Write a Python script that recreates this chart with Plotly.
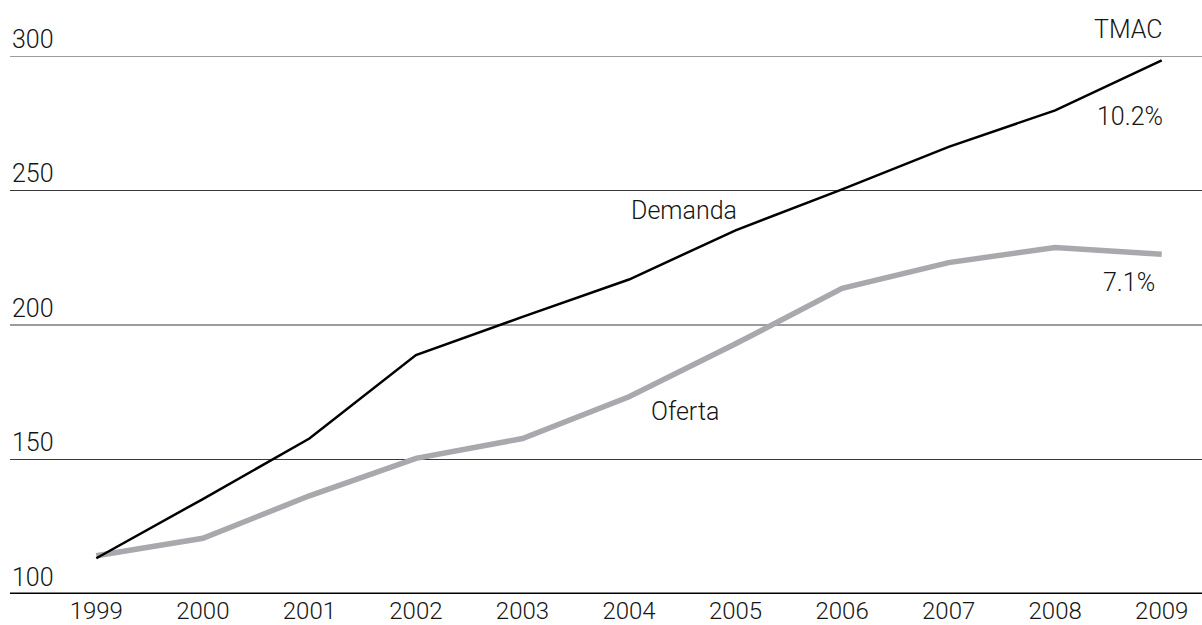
import plotly.graph_objects as go

years = [1999, 2000, 2001, 2002, 2003, 2004, 2005, 2006, 2007, 2008, 2009]
demanda = [113.3, 135.3, 157.8, 188.8, 203.0, 216.9, 235.2, 250.4, 266.2, 279.8, 298.4]
oferta = [114.2, 120.7, 136.5, 150.4, 157.8, 173.3, 193.0, 213.6, 223.2, 228.8, 226.3]
y_ticks = [100, 150, 200, 250, 300]
x_labels = [str(y) for y in years]

FONT = "Roboto"
TXT = dict(family=FONT, size=25, color="#151515", weight=300)
XTXT = dict(family=FONT, size=24, color="#151515", weight=300)

fig = go.Figure()
fig.add_trace(go.Scatter(x=years, y=oferta, mode="lines", name="Oferta",
                         line=dict(color="#A8A9AD", width=5.5), showlegend=False))
fig.add_trace(go.Scatter(x=years, y=demanda, mode="lines", name="Demanda",
                         line=dict(color="#000000", width=2.5), showlegend=False))

# gridlines and base axis line
for v in y_ticks:
    fig.add_shape(type="line", xref="paper", x0=0, x1=1, yref="y", y0=v, y1=v,
                  line=dict(color="#000000" if v == y_ticks[0] else "#3a3a3a",
                            width=3 if v == y_ticks[0] else 1), layer="below")
    fig.add_annotation(x=0, xref="paper", y=v, yref="y", text=str(v), showarrow=False,
                       xanchor="left", yanchor="middle", yshift=17, font=TXT)

fig.add_annotation(x=2004.52, y=242.7, text="Demanda", showarrow=False, font=TXT)
fig.add_annotation(x=2004.53, y=167.8, text="Oferta", showarrow=False, font=TXT)
fig.add_annotation(x=2008.69, xref="x", y=1.05, yref="paper", text="TMAC",
                   showarrow=False, yanchor="middle", font=TXT)
fig.add_annotation(x=2008.7, y=277.4, text="10.2%", showarrow=False, font=TXT)
fig.add_annotation(x=2008.69, y=215.8, text="7.1%", showarrow=False, font=TXT)

fig.update_layout(
    template="none",
    width=1202, height=625,
    margin=dict(l=10, r=0, t=56, b=31, autoexpand=False),
    paper_bgcolor="white", plot_bgcolor="white",
    xaxis=dict(range=[1998.19, 2009.378], tickmode="array", tickvals=years, ticktext=x_labels,
               showgrid=False, zeroline=False, showline=False, automargin=False,
               ticks="", tickfont=XTXT),
    yaxis=dict(range=[100, 300], tickmode="array", tickvals=y_ticks, showticklabels=False,
               showgrid=False, zeroline=False, showline=False, automargin=False),
)

fig.write_html("out.html")
